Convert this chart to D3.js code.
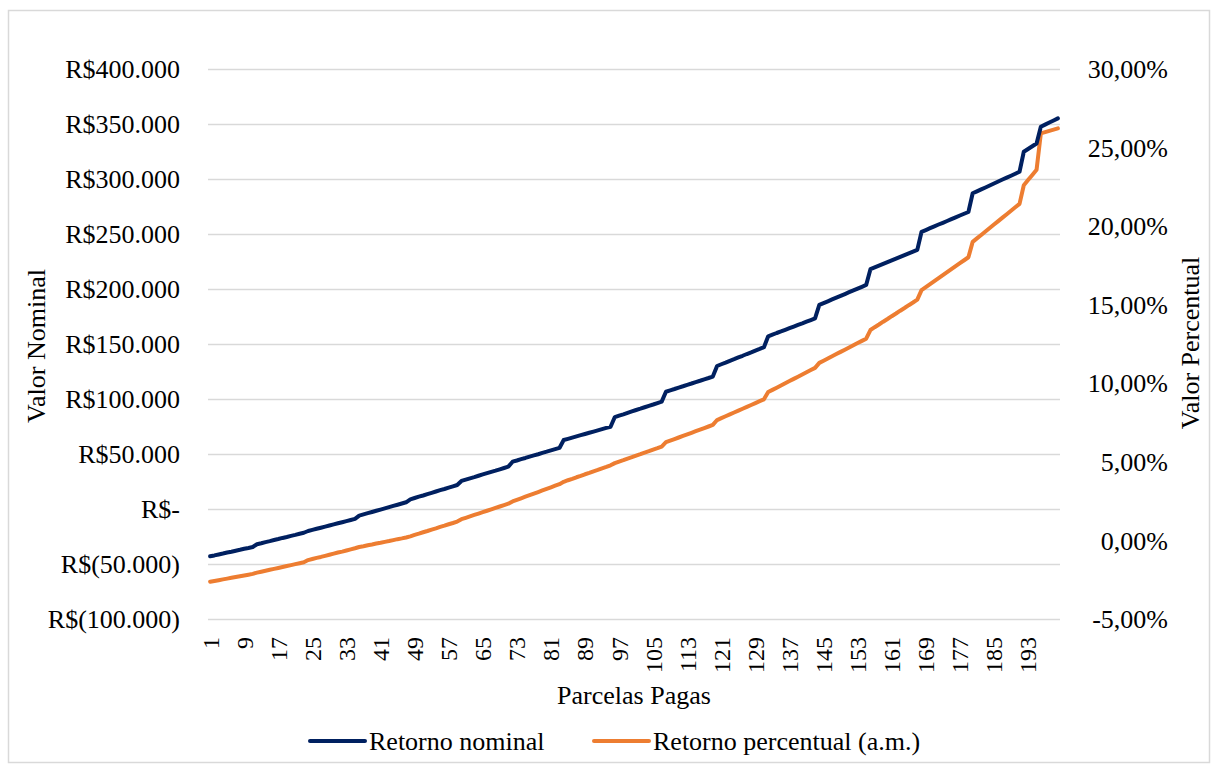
<!DOCTYPE html>
<html>
<head>
<meta charset="utf-8" />
<title>Retorno nominal e percentual</title>
<script src="https://cdn.jsdelivr.net/npm/d3@7"></script>
<style>
	body, html { margin: 0; background: #fff; }
	svg text { font-family: "Liberation Serif", "Times New Roman", serif; fill: #000; }
</style>
</head>
<body>
<div id="chart"></div>
<script>
	// parcelas pagas (1 a 200)
	var parcelas = d3.range(1, 201);

	// retorno nominal, em R$ mil
	var nominal = [
		-43.0, -42.2, -41.3, -40.5, -39.6, -38.8, -37.9, -37.1, -36.2, -35.4, -34.5,
		-32.0, -31.1, -30.1, -29.2, -28.2, -27.3, -26.3, -25.4, -24.4, -23.5, -22.5, -21.6,
		-20.0, -19.0, -18.0, -17.0, -16.0, -15.0, -14.0, -13.0, -12.0, -11.0, -10.0, -9.0,
		-6.0, -4.9, -3.8, -2.7, -1.6, -0.5, 0.6, 1.7, 2.8, 3.9, 5.0, 6.1,
		8.8, 10.0, 11.2, 12.3, 13.5, 14.7, 15.9, 17.1, 18.2, 19.4, 20.6, 21.8,
		25.5, 26.7, 27.9, 29.0, 30.2, 31.4, 32.6, 33.8, 34.9, 36.1, 37.3, 38.5,
		43.0, 44.1, 45.3, 46.4, 47.6, 48.7, 49.8, 51.0, 52.1, 53.3, 54.4, 55.5,
		62.7, 63.8, 64.9, 66.0, 67.1, 68.2, 69.3, 70.4, 71.5, 72.6, 73.7, 74.8,
		83.6, 84.9, 86.1, 87.4, 88.7, 90.0, 91.2, 92.5, 93.8, 95.0, 96.3, 97.6,
		106.6, 107.9, 109.1, 110.4, 111.6, 112.9, 114.1, 115.4, 116.6, 117.9, 119.1, 120.4,
		130.0, 131.6, 133.1, 134.7, 136.2, 137.8, 139.3, 140.9, 142.4, 144.0, 145.5, 147.1,
		157.0, 158.5, 160.0, 161.4, 162.9, 164.4, 165.9, 167.4, 168.8, 170.3, 171.8, 173.3,
		185.5, 187.2, 188.8, 190.5, 192.1, 193.8, 195.4, 197.1, 198.7, 200.4, 202.0, 203.7,
		218.0, 219.6, 221.2, 222.8, 224.4, 226.0, 227.6, 229.2, 230.8, 232.4, 234.0, 235.6,
		252.0, 253.6, 255.3, 256.9, 258.6, 260.2, 261.8, 263.5, 265.1, 266.8, 268.4, 270.0,
		287.0, 288.8, 290.6, 292.3, 294.1, 295.9, 297.7, 299.5, 301.2, 303.0, 304.8, 306.6,
		324.8, 327.3, 329.8, 332.3,
		347.5, 349.4, 351.3, 353.2, 355.1
	];

	// retorno percentual (a.m.), em %
	var percentual = [
		-2.63, -2.58, -2.53, -2.48, -2.43, -2.38, -2.33, -2.28, -2.23, -2.18, -2.13,
		-2.05, -1.99, -1.93, -1.87, -1.81, -1.75, -1.69, -1.63, -1.57, -1.51, -1.45, -1.39,
		-1.25, -1.18, -1.11, -1.05, -0.98, -0.91, -0.84, -0.77, -0.71, -0.64, -0.57, -0.50,
		-0.42, -0.37, -0.31, -0.26, -0.20, -0.15, -0.09, -0.04, 0.02, 0.08, 0.13, 0.19,
		0.26, 0.35, 0.43, 0.52, 0.60, 0.69, 0.77, 0.86, 0.94, 1.03, 1.11, 1.20,
		1.35, 1.44, 1.53, 1.62, 1.71, 1.80, 1.89, 1.98, 2.07, 2.16, 2.25, 2.34,
		2.48, 2.58, 2.68, 2.78, 2.88, 2.98, 3.08, 3.18, 3.28, 3.38, 3.48, 3.58,
		3.73, 3.83, 3.92, 4.02, 4.11, 4.21, 4.30, 4.40, 4.49, 4.59, 4.68, 4.78,
		4.92, 5.02, 5.11, 5.21, 5.30, 5.40, 5.49, 5.59, 5.68, 5.78, 5.87, 5.97,
		6.25, 6.35, 6.45, 6.55, 6.65, 6.75, 6.85, 6.95, 7.05, 7.15, 7.25, 7.35,
		7.66, 7.78, 7.90, 8.02, 8.14, 8.26, 8.38, 8.50, 8.62, 8.74, 8.86, 8.98,
		9.44, 9.58, 9.72, 9.86, 10.00, 10.14, 10.28, 10.42, 10.56, 10.70, 10.84, 10.98,
		11.30, 11.44, 11.58, 11.72, 11.86, 12.00, 12.14, 12.28, 12.42, 12.56, 12.70, 12.84,
		13.39, 13.57, 13.74, 13.92, 14.09, 14.27, 14.44, 14.62, 14.79, 14.97, 15.14, 15.32,
		15.93, 16.12, 16.31, 16.50, 16.69, 16.88, 17.07, 17.26, 17.45, 17.64, 17.83, 18.02,
		19.00, 19.22, 19.44, 19.66, 19.88, 20.10, 20.32, 20.54, 20.76, 20.98, 21.20, 21.42,
		22.60, 22.93, 23.26, 23.59,
		25.90, 25.98, 26.06, 26.14, 26.22
	];

	// eixos
	var leftTicks = [-100, -50, 0, 50, 100, 150, 200, 250, 300, 350, 400];
	var leftLabels = ["R$(100.000)", "R$(50.000)", "R$-", "R$50.000", "R$100.000", "R$150.000",
		"R$200.000", "R$250.000", "R$300.000", "R$350.000", "R$400.000"];
	var rightTicks = [-5, 0, 5, 10, 15, 20, 25, 30];
	var rightLabels = ["-5,00%", "0,00%", "5,00%", "10,00%", "15,00%", "20,00%", "25,00%", "30,00%"];
	var xTicks = d3.range(1, 201, 8);

	var seriesNames = ["Retorno nominal", "Retorno percentual (a.m.)"];
	var colors = ["#002060", "#ed7d31"];

	var W = 1218, H = 772;
	var plot = { left: 208, right: 1060, top: 69, bottom: 619 };

	var svg = d3.select("#chart").append("svg")
		.attr("width", W)
		.attr("height", H);

	// moldura
	svg.append("rect")
		.attr("x", 8.5).attr("y", 10.5)
		.attr("width", 1201).attr("height", 752)
		.attr("fill", "none")
		.attr("stroke", "#d9d9d9")
		.attr("stroke-width", 1.5);

	var x = d3.scalePoint().domain(parcelas).range([plot.left, plot.right]).padding(0.5);
	var yL = d3.scaleLinear().domain([-100, 400]).range([plot.bottom, plot.top]);
	var yR = d3.scaleLinear().domain([-5, 30]).range([plot.bottom, plot.top]);

	// grade + eixo esquerdo
	var gL = svg.append("g")
		.attr("transform", "translate(" + plot.left + ",0)")
		.call(d3.axisLeft(yL)
			.tickValues(leftTicks)
			.tickSize(-(plot.right - plot.left))
			.tickPadding(28)
			.tickFormat(function (d, i) { return leftLabels[i]; }));
	gL.select(".domain").remove();
	gL.selectAll(".tick line").attr("stroke", "#d9d9d9").attr("stroke-width", 1.3);
	gL.selectAll(".tick text")
		.attr("font-size", 26)
		.attr("font-family", null)
		.attr("dy", "0.33em");

	// eixo direito
	var gR = svg.append("g")
		.attr("transform", "translate(" + plot.right + ",0)")
		.call(d3.axisRight(yR)
			.tickValues(rightTicks)
			.tickSize(0)
			.tickFormat(function (d, i) { return rightLabels[i]; }));
	gR.select(".domain").remove();
	gR.selectAll(".tick text")
		.attr("x", 108)
		.attr("text-anchor", "end")
		.attr("font-size", 26)
		.attr("font-family", null)
		.attr("dy", "0.33em");

	// eixo x
	var gX = svg.append("g")
		.attr("transform", "translate(0," + plot.bottom + ")")
		.call(d3.axisBottom(x).tickValues(xTicks).tickSize(0));
	gX.select(".domain").remove();
	gX.selectAll(".tick text")
		.attr("font-size", 24)
		.attr("font-family", null)
		.attr("text-anchor", "end")
		.attr("transform", "translate(0,18) rotate(-90)")
		.attr("x", 0).attr("y", 0)
		.attr("dy", "0.33em");

	// linhas
	var lineL = d3.line()
		.x(function (d, i) { return x(parcelas[i]); })
		.y(function (d) { return yL(d); });
	var lineR = d3.line()
		.x(function (d, i) { return x(parcelas[i]); })
		.y(function (d) { return yR(d); });

	svg.append("path")
		.datum(percentual)
		.attr("fill", "none")
		.attr("stroke", colors[1])
		.attr("stroke-width", 4)
		.attr("stroke-linejoin", "round")
		.attr("stroke-linecap", "round")
		.attr("d", lineR);

	svg.append("path")
		.datum(nominal)
		.attr("fill", "none")
		.attr("stroke", colors[0])
		.attr("stroke-width", 4)
		.attr("stroke-linejoin", "round")
		.attr("stroke-linecap", "round")
		.attr("d", lineL);

	// títulos dos eixos
	svg.append("text")
		.attr("transform", "translate(36,346) rotate(-90)")
		.attr("text-anchor", "middle")
		.attr("dy", "0.33em")
		.attr("font-size", 26)
		.text("Valor Nominal");

	svg.append("text")
		.attr("transform", "translate(1190,343) rotate(-90)")
		.attr("text-anchor", "middle")
		.attr("dy", "0.33em")
		.attr("font-size", 26)
		.text("Valor Percentual");

	svg.append("text")
		.attr("x", 634).attr("y", 695)
		.attr("text-anchor", "middle")
		.attr("dy", "0.33em")
		.attr("font-size", 26)
		.text("Parcelas Pagas");

	// legenda
	var legendX = [310, 594];
	var legend = svg.append("g");
	seriesNames.forEach(function (name, i) {
		legend.append("line")
			.attr("x1", legendX[i]).attr("x2", legendX[i] + 55)
			.attr("y1", 741).attr("y2", 741)
			.attr("stroke", colors[i])
			.attr("stroke-width", 4)
			.attr("stroke-linecap", "round");
		legend.append("text")
			.attr("x", legendX[i] + 59).attr("y", 741)
			.attr("dy", "0.33em")
			.attr("font-size", 26)
			.text(name);
	});
</script>
</body>
</html>
